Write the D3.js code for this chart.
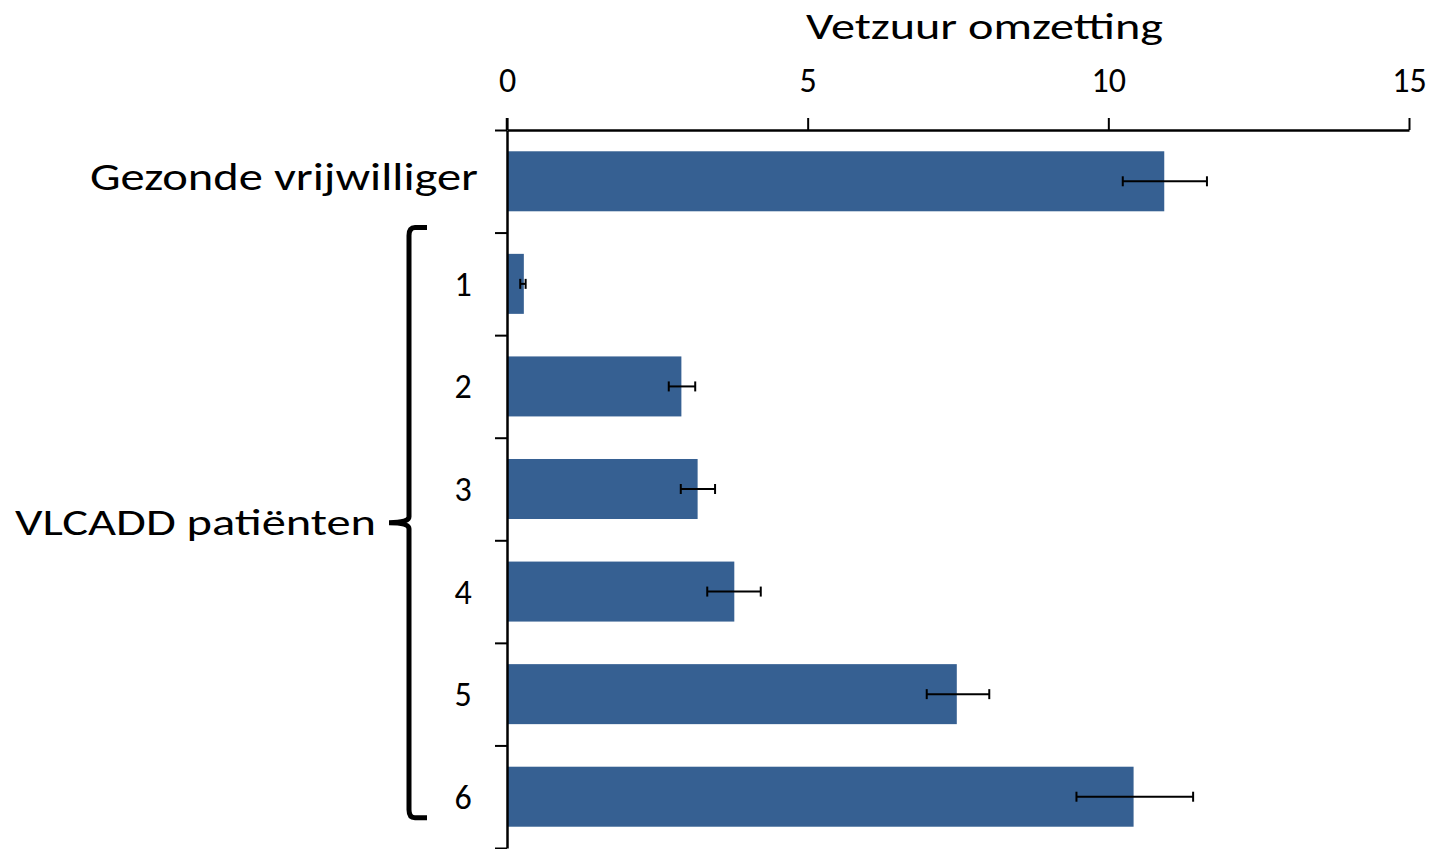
<!DOCTYPE html>
<meta charset="utf-8">
<script src="https://d3js.org/d3.v7.min.js"></script>
<style>
  body { margin: 0; background: #fff; }
  text { font-family: Carlito, Calibri, Lato, sans-serif; fill: #000; }
</style>
<div id="chart"></div>
<script>

// data
var categories = ["Gezonde vrijwilliger", "1", "2", "3", "4", "5", "6"];
var values     = [10.93, 0.28, 2.90, 3.17, 3.78, 7.48, 10.42];
var errLow     = [10.24, 0.22, 2.69, 2.89, 3.33, 6.98, 9.47];
var errHigh    = [11.64, 0.31, 3.13, 3.46, 4.22, 8.02, 11.41];
var xTicks     = [0, 5, 10, 15];
var title      = "Vetzuur omzetting";
var groupLabel = "VLCADD patiënten";

var W = 1434, H = 849;
var plotLeft = 507, plotRight = 1409, plotTop = 130, plotBottom = 848;

var svg = d3.select("#chart").append("svg")
    .attr("width", W).attr("height", H);

var x = d3.scaleLinear().domain([0, 15]).range([plotLeft, plotRight]);
var y = d3.scaleBand().domain(categories).range([plotTop, plotBottom])
    .paddingInner(0.415).paddingOuter(0.2075);
var step = y.step();
var bw = y.bandwidth();

// bars
svg.selectAll("rect.bar")
    .data(categories)
    .enter().append("rect")
    .attr("class", "bar")
    .attr("x", x(0))
    .attr("y", function (d) { return y(d); })
    .attr("width", function (d, i) { return x(values[i]) - x(0); })
    .attr("height", bw)
    .attr("fill", "#366092");

// error bars
var eb = svg.selectAll("g.err")
    .data(categories)
    .enter().append("g")
    .attr("class", "err")
    .attr("stroke", "#000")
    .attr("stroke-width", 2);
eb.append("line")
    .attr("x1", function (d, i) { return x(errLow[i]); })
    .attr("x2", function (d, i) { return x(errHigh[i]); })
    .attr("y1", function (d) { return y(d) + bw / 2; })
    .attr("y2", function (d) { return y(d) + bw / 2; });
eb.append("line")
    .attr("x1", function (d, i) { return x(errLow[i]); })
    .attr("x2", function (d, i) { return x(errLow[i]); })
    .attr("y1", function (d) { return y(d) + bw / 2 - 5; })
    .attr("y2", function (d) { return y(d) + bw / 2 + 5; });
eb.append("line")
    .attr("x1", function (d, i) { return x(errHigh[i]); })
    .attr("x2", function (d, i) { return x(errHigh[i]); })
    .attr("y1", function (d) { return y(d) + bw / 2 - 5; })
    .attr("y2", function (d) { return y(d) + bw / 2 + 5; });

// top axis
var xAxis = svg.append("g")
    .attr("transform", "translate(0," + plotTop + ")")
    .call(d3.axisTop(x).tickValues(xTicks).tickSize(12).tickSizeOuter(0).tickPadding(26));
xAxis.select(".domain").attr("stroke-width", 2.5);
xAxis.selectAll(".tick line").attr("stroke-width", 2);
xAxis.selectAll(".tick text").style("font-size", "34px");

// left axis with ticks between categories
var yb = d3.scaleLinear().domain([0, categories.length]).range([plotTop, plotBottom]);
var yAxis = svg.append("g")
    .attr("transform", "translate(" + plotLeft + ",0)")
    .call(d3.axisLeft(yb).tickValues(d3.range(categories.length + 1))
        .tickFormat("").tickSize(12).tickSizeOuter(0));
yAxis.select(".domain").attr("stroke-width", 2.5);
yAxis.selectAll(".tick line").attr("stroke-width", 2);
// y axis also pokes above the x axis
svg.append("line")
    .attr("x1", plotLeft).attr("x2", plotLeft)
    .attr("y1", plotTop - 12).attr("y2", plotTop)
    .attr("stroke", "#000").attr("stroke-width", 2.5);

// category labels
svg.append("text")
    .attr("x", 478)
    .attr("y", y(categories[0]) + bw / 2 + 9)
    .attr("text-anchor", "end")
    .attr("textLength", 388)
    .attr("lengthAdjust", "spacingAndGlyphs")
    .style("font-size", "39px")
    .text(categories[0]);

svg.selectAll("text.num")
    .data(categories.slice(1))
    .enter().append("text")
    .attr("class", "num")
    .attr("x", 463)
    .attr("y", function (d) { return y(d) + bw / 2 + 12; })
    .attr("text-anchor", "middle")
    .style("font-size", "34px")
    .text(function (d) { return d; });

// title
svg.append("text")
    .attr("x", (806 + 1163) / 2)
    .attr("y", 39)
    .attr("text-anchor", "middle")
    .attr("textLength", 357)
    .attr("lengthAdjust", "spacingAndGlyphs")
    .style("font-size", "36px")
    .text(title);

// curly brace around patients
var bTop = y("1") - step * 0.415 / 2 - 5;
var bBot = y("6") + bw - 9;
var bMid = (bTop + bBot) / 2;
var bx = 409, tip = 389, hook = 427;
svg.append("path")
    .attr("d", "M" + hook + "," + bTop +
        " L" + (bx + 6) + "," + bTop +
        " Q" + bx + "," + bTop + " " + bx + "," + (bTop + 8) +
        " L" + bx + "," + (bMid - 6) +
        " Q" + bx + "," + bMid + " " + tip + "," + bMid +
        " Q" + bx + "," + bMid + " " + bx + "," + (bMid + 6) +
        " L" + bx + "," + (bBot - 8) +
        " Q" + bx + "," + bBot + " " + (bx + 6) + "," + bBot +
        " L" + hook + "," + bBot)
    .attr("fill", "none")
    .attr("stroke", "#000")
    .attr("stroke-width", 5);

svg.append("text")
    .attr("x", 376)
    .attr("y", bMid + 12)
    .attr("text-anchor", "end")
    .attr("textLength", 361)
    .attr("lengthAdjust", "spacingAndGlyphs")
    .style("font-size", "37px")
    .text(groupLabel);

</script>
